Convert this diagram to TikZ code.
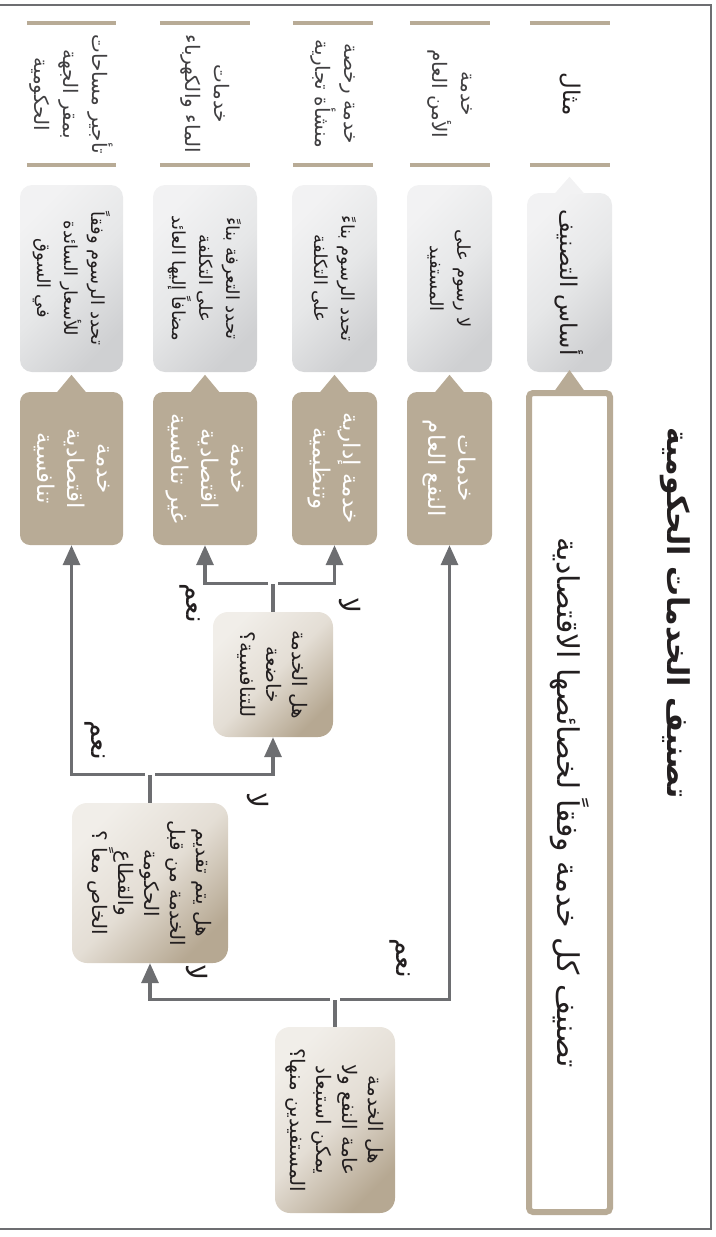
\documentclass[tikz,border=0pt]{standalone}
\usepackage{fontspec}
\newfontfamily\arabicfont[Script=Arabic]{DejaVu Sans}
\TeXXeTstate=1
\usepackage{xcolor}
\usetikzlibrary{arrows.meta, positioning, calc}
\definecolor{tanbrown}{HTML}{B8AB96}
\definecolor{flowgray}{HTML}{6D6E71}
\definecolor{inkdark}{HTML}{231F20}
\definecolor{exink}{HTML}{414042}
\definecolor{basLight}{HTML}{F2F2F3}
\definecolor{basMid}{HTML}{E6E7E8}
\definecolor{basDark}{HTML}{CFD0D2}
\definecolor{qLight}{HTML}{F1EEE9}
\definecolor{qMid}{HTML}{E4DED5}
\definecolor{qDark}{HTML}{B6A892}
\newcommand{\artxt}[1]{{\arabicfont\beginR #1\endR}}
% small triangle on the top side of a box
\newcommand{\tipup}[3]{\fill[#2] ($(#1.west)+(-15,1)$) -- ($(#1.west)+(0,-#3)$) -- ($(#1.west)+(15,1)$) -- cycle;}
\tikzset{
    rot/.style={rotate=-90},
    heading/.style={
        rot,
        text=inkdark,
        font=\fontsize{30}{34}\bfseries\selectfont,
    },
    stepframe/.style={
        rot,
        draw=tanbrown,
        line width=6pt,
        fill=white,
        rounded corners=4pt,
        minimum width=819pt,
        minimum height=81pt,
        text=inkdark,
        font=\fontsize{30}{34}\selectfont,
    },
    example/.style={
        rot,
        inner sep=0pt,
        minimum width=142pt,
        align=center,
        text=exink,
        font=\fontsize{20}{29}\selectfont,
    },
    basis/.style={
        rot,
        rounded corners=12pt,
        bottom color=basLight,
        top color=basDark,
        middle color=basMid,
        shading angle=-135,
        minimum width=187pt,
        align=center,
        text=inkdark,
        font=\fontsize{18}{27}\selectfont,
    },
    kind/.style={
        rot,
        rounded corners=10pt,
        fill=tanbrown,
        minimum width=153pt,
        align=center,
        text=white,
        font=\fontsize{23}{30}\selectfont,
    },
    question/.style={
        rot,
        rounded corners=15pt,
        bottom color=qLight,
        top color=qDark,
        middle color=qMid,
        shading angle=-135,
        align=center,
        text=inkdark,
        font=\fontsize{20}{26}\selectfont,
    },
    answer/.style={
        rot,
        text=inkdark,
        font=\fontsize{28}{30}\selectfont,
    },
    exline/.style={draw=tanbrown, line width=4pt},
    flow/.style={draw=flowgray, line width=3.2pt},
    arr/.style={flow, -{Triangle[width=17pt,length=20pt]}},
}
\begin{document}
\begin{tikzpicture}[x=1pt, y=-1pt]
    \useasboundingbox (0,0) rectangle (715,1237);
    \draw[flowgray, line width=1.5pt] (0,5) -- (711,5) -- (711,1229) -- (0,1229);

    \node[heading] (title) at (675,613) {\artxt{تصنيف الخدمات الحكومية}};
    \node[stepframe] (step) at (569.5,802.5) {\artxt{تصنيف كل خدمة وفقاً لخصائصها الاقتصادية}};

    % examples
    \node[example, minimum height=80pt, text=inkdark, font=\fontsize{23}{26}\selectfont] (exHead) at (570,94) {\artxt{مثال}};
    \node[example, minimum height=80pt] (exPublic) at (450,94) {\artxt{خدمة}\\\artxt{الأمن العام}};
    \node[example, minimum height=80pt] (exAdmin) at (333,94) {\artxt{خدمة رخصة}\\\artxt{منشأة تجارية}};
    \node[example, minimum height=90pt] (exUtility) at (205,94) {\artxt{خدمات}\\\artxt{الماء والكهرباء}};
    \node[example, minimum height=89pt] (exRent) at (71.5,94) {\artxt{تأجير مساحات}\\\artxt{بمقر الجهة}\\\artxt{الحكومية}};
    \foreach \ex in {exHead, exPublic, exAdmin, exUtility, exRent} {
        \draw[exline] (\ex.south west) -- (\ex.north west);
        \draw[exline] (\ex.south east) -- (\ex.north east);
    }

    % basis of pricing
    \node[basis, minimum width=179pt, minimum height=85pt, font=\fontsize{23}{26}\selectfont] (basHead) at (569.5,282.5) {\artxt{أساس التصنيف}};
    \node[basis, minimum height=85pt] (basPublic) at (449.5,278.5) {\artxt{لا رسوم على}\\\artxt{المستفيد}};
    \node[basis, minimum height=85pt] (basAdmin) at (334.5,278.5) {\artxt{تحدد الرسوم بناءً}\\\artxt{على التكلفة}};
    \node[basis, minimum height=104pt] (basUtility) at (205,278.5) {\artxt{تحدد التعرفة بناءً}\\\artxt{على التكلفة}\\\artxt{مضافاً إليها العائد}};
    \node[basis, minimum height=103pt] (basRent) at (71.5,278.5) {\artxt{تحدد الرسوم وفقاً}\\\artxt{للأسعار السائدة}\\\artxt{في السوق}};
    \tipup{basHead}{basLight}{16}
    \tipup{step}{tanbrown}{20}

    % service kinds
    \node[kind, minimum height=85pt] (pubKind) at (449.5,468.5) {\artxt{خدمات}\\\artxt{النفع العام}};
    \node[kind, minimum height=85pt] (admKind) at (334.5,468.5) {\artxt{خدمة إدارية}\\\artxt{وتنظيمية}};
    \node[kind, minimum height=104pt] (ncKind) at (205,468.5) {\artxt{خدمة}\\\artxt{اقتصادية}\\\artxt{غير تنافسية}};
    \node[kind, minimum height=103pt] (compKind) at (71.5,468.5) {\artxt{خدمة}\\\artxt{اقتصادية}\\\artxt{تنافسية}};
    \foreach \k in {pubKind, admKind, ncKind, compKind} {
        \tipup{\k}{tanbrown}{17}
    }

    % questions
    \node[question, minimum width=186pt, minimum height=120pt] (qPublic) at (335,1120) {\artxt{هل الخدمة}\\\artxt{عامة النفع ولا}\\\artxt{يمكن استبعاد}\\\artxt{المستفيدين منها؟}};
    \node[question, minimum width=160pt, minimum height=156pt] (qShared) at (150,883) {\artxt{هل يتم تقديم}\\\artxt{الخدمة من قبل}\\\artxt{الحكومة}\\\artxt{والقطاع}\\\artxt{الخاص معاً ؟}};
    \node[question, minimum width=125pt, minimum height=120pt] (qCompete) at (273,674.5) {\artxt{هل الخدمة}\\\artxt{خاضعة}\\\artxt{للتنافسية؟}};

    \coordinate (jPublic) at ($(qPublic.west)+(0,-27)$);
    \coordinate (jShared) at ($(qShared.west)+(0,-28)$);
    \coordinate (jCompete) at ($(qCompete.west)+(0,-28)$);

    \draw[flow] (qPublic) -- (jPublic);
    \draw[arr] ($(jPublic)+(5,0)$) -| (pubKind);
    \draw[arr] ($(jPublic)+(-5,0)$) -| (qShared);
    \draw[flow] (qShared) -- (jShared);
    \draw[arr] ($(jShared)+(-5,0)$) -| (compKind);
    \draw[arr] ($(jShared)+(5,0)$) -| (qCompete);
    \draw[flow] (qCompete) -- (jCompete);
    \draw[arr] ($(jCompete)+(-5,0)$) -| (ncKind);
    \draw[arr] ($(jCompete)+(5,0)$) -| (admKind);

    \node[answer] (yesPublic) at (400,958) {\artxt{نعم}};
    \node[answer] (noPublic) at (197,972) {\artxt{لا}};
    \node[answer] (yesShared) at (95,740) {\artxt{نعم}};
    \node[answer] (noShared) at (258,800) {\artxt{لا}};
    \node[answer] (yesCompete) at (190,603) {\artxt{نعم}};
    \node[answer] (noCompete) at (350,605) {\artxt{لا}};
\end{tikzpicture}
\end{document}
